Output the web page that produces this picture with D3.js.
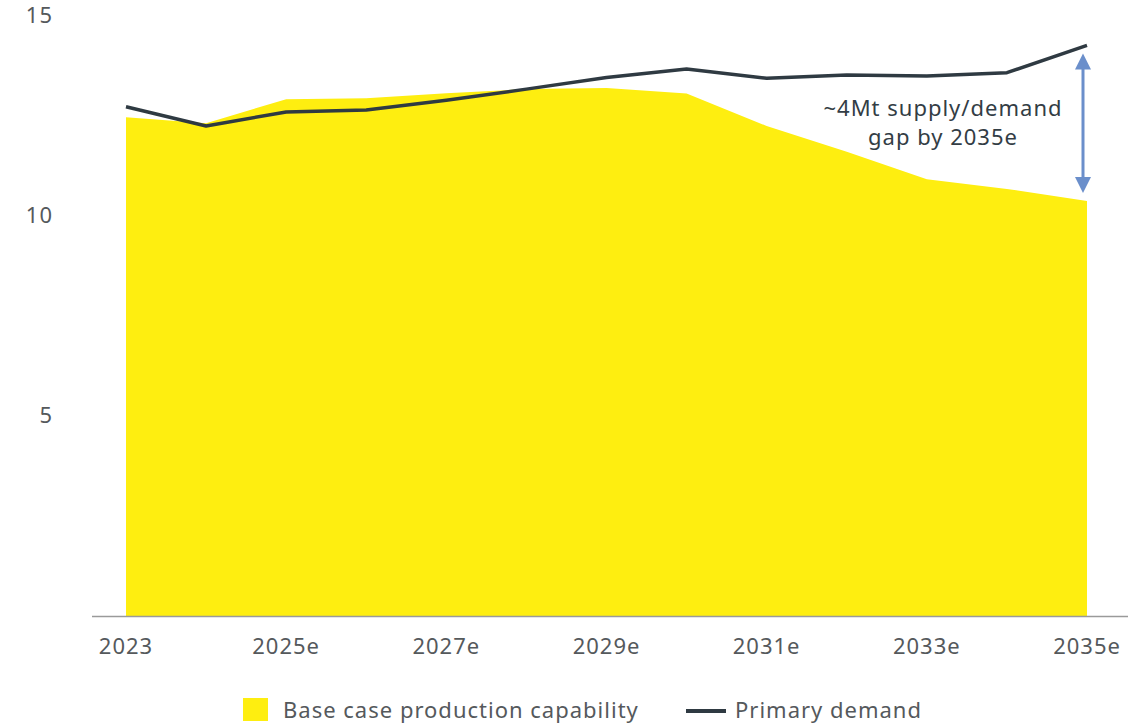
<!DOCTYPE html>
<html>
<head>
<meta charset="utf-8">
<script src="https://cdn.jsdelivr.net/npm/d3@7"></script>
<style>
  body { margin: 0; background: #fff; }
  svg { display: block; font-family: "Noto Sans", "Open Sans", sans-serif; }
</style>
</head>
<body>
<svg id="chart" width="1143" height="723"></svg>
<script>
const years = ["2023","2024e","2025e","2026e","2027e","2028e","2029e","2030e","2031e","2032e","2033e","2034e","2035e"];
const tickLabels = ["2023","2025e","2027e","2029e","2031e","2033e","2035e"];
const supply = [12.45, 12.30, 12.90, 12.92, 13.05, 13.15, 13.18, 13.04, 12.23, 11.59, 10.90, 10.66, 10.36];
const demand = [12.71, 12.23, 12.58, 12.63, 12.87, 13.15, 13.44, 13.65, 13.42, 13.50, 13.48, 13.56, 14.24];
const yTicks = [5, 10, 15];
const seriesNames = ["Base case production capability", "Primary demand"];
const annotation = ["~4Mt supply/demand", "gap by 2035e"];

const svg = d3.select("#chart");
const x = d3.scalePoint().domain(years).range([126, 1087]);
const y = d3.scaleLinear().domain([0, 15]).range([616, 15]);

const yellow = "#FEEE10";
const dark = "#2F3A42";
const grey = "#55595c";
const fs = 22, ls = "1px";

// area
svg.append("path")
  .datum(supply)
  .attr("fill", yellow)
  .attr("d", d3.area().x((d,i)=>x(years[i])).y0(y(0)).y1(d=>y(d)));

// x axis line
svg.append("line").attr("x1", 92).attr("x2", 1128).attr("y1", y(0)+0.5).attr("y2", y(0)+0.5)
  .attr("stroke", "#9a9a9a").attr("stroke-width", 1.6);

// demand line
svg.append("path")
  .datum(demand)
  .attr("fill", "none").attr("stroke", dark).attr("stroke-width", 3.5)
  .attr("stroke-linejoin", "round")
  .attr("d", d3.line().x((d,i)=>x(years[i])).y(d=>y(d)));

// y tick labels
svg.append("g").selectAll("text").data(yTicks).join("text")
  .attr("x", 53).attr("y", d=>y(d)).attr("dy", "0.35em")
  .attr("text-anchor", "end").attr("font-size", fs).attr("letter-spacing", ls).attr("fill", grey)
  .text(d=>d);

// x tick labels
svg.append("g").selectAll("text").data(tickLabels).join("text")
  .attr("x", d=>x(d)).attr("y", 654)
  .attr("text-anchor", "middle").attr("font-size", fs).attr("letter-spacing", ls).attr("fill", grey)
  .text(d=>d);

// gap arrow
const ax = 1083;
const aTop = y(demand[12]) + 8, aBot = y(supply[12]) - 8;
svg.append("line").attr("x1", ax).attr("x2", ax).attr("y1", aTop + 12).attr("y2", aBot - 12)
  .attr("stroke", "#6B8FCB").attr("stroke-width", 3);
svg.append("path").attr("fill", "#6B8FCB")
  .attr("d", `M${ax},${aTop} L${ax-8},${aTop+16} L${ax+8},${aTop+16} Z`);
svg.append("path").attr("fill", "#6B8FCB")
  .attr("d", `M${ax},${aBot} L${ax-8},${aBot-16} L${ax+8},${aBot-16} Z`);

// annotation
svg.append("g").selectAll("text").data(annotation).join("text")
  .attr("x", 943).attr("y", (d,i)=>116 + i*29)
  .attr("text-anchor", "middle").attr("font-size", fs).attr("letter-spacing", ls).attr("fill", "#333d45")
  .text(d=>d);

// legend
const lg = svg.append("g");
lg.append("rect").attr("x", 243).attr("y", 698).attr("width", 25).attr("height", 23).attr("fill", yellow);
lg.append("text").attr("x", 283).attr("y", 718).attr("font-size", fs).attr("letter-spacing", ls).attr("fill", grey).text(seriesNames[0]);
lg.append("line").attr("x1", 686).attr("x2", 726).attr("y1", 711).attr("y2", 711)
  .attr("stroke", dark).attr("stroke-width", 4);
lg.append("text").attr("x", 735).attr("y", 718).attr("font-size", fs).attr("letter-spacing", ls).attr("fill", grey).text(seriesNames[1]);
</script>
</body>
</html>
